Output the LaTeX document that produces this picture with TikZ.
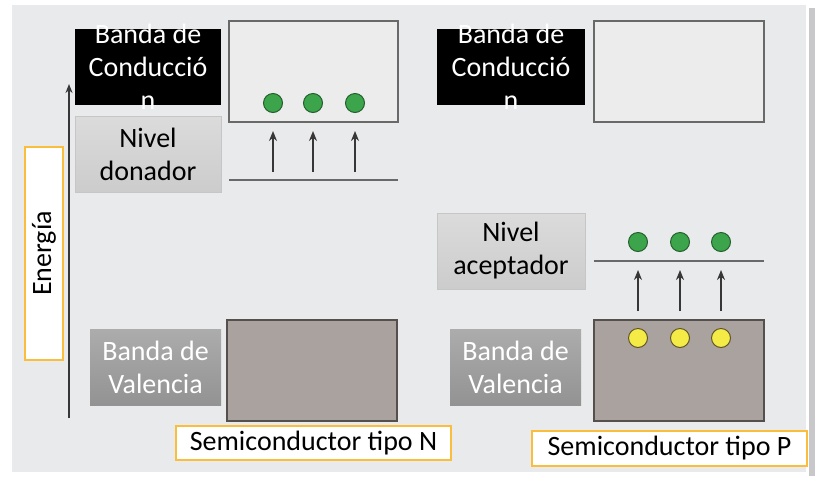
\documentclass[tikz,border=0pt]{standalone}
\usepackage{fontspec}
\setmainfont{Carlito}
\usetikzlibrary{arrows.meta}
\definecolor{bgc}{RGB}{233,234,236}
\definecolor{shadowc}{RGB}{200,200,202}
\definecolor{cbfill}{RGB}{236,236,237}
\definecolor{bandline}{RGB}{105,105,105}
\definecolor{vbfill}{RGB}{170,162,159}
\definecolor{vbline}{RGB}{85,80,78}
\definecolor{orangec}{RGB}{250,190,60}
\definecolor{greenf}{RGB}{60,165,75}
\definecolor{greend}{RGB}{35,95,45}
\definecolor{yellowf}{RGB}{245,235,70}
\definecolor{yellowd}{RGB}{95,85,40}
\definecolor{arrowc}{RGB}{55,55,55}
\tikzset{
  txt/.style={font=\fontsize{28}{33}\selectfont, inner sep=0pt, align=center},
  darklabel/.style={rectangle, fill=black, inner sep=0pt},
  graylabel/.style={rectangle, top color=gray!28, bottom color=gray!40, draw=gray!45, line width=0.6pt, inner sep=0pt, txt},
  vallabel/.style={rectangle, top color=gray!65, bottom color=gray!85, inner sep=0pt, text=white, txt},
  cband/.style={rectangle, fill=cbfill, draw=bandline, line width=1.4pt, inner sep=0pt},
  vband/.style={rectangle, fill=vbfill, draw=vbline, line width=1.4pt, inner sep=0pt},
  ebox/.style={rectangle, fill=white, draw=orangec, line width=1.2pt, inner sep=0pt, txt},
  edot/.style={circle, fill=greenf, draw=greend, line width=1pt, minimum size=19pt, inner sep=0pt},
  hdot/.style={circle, fill=yellowf, draw=yellowd, line width=1pt, minimum size=19pt, inner sep=0pt},
  jump/.style={draw=arrowc, line width=1.7pt, -{Stealth[length=10pt,width=8pt]}},
  level/.style={draw=bandline, line width=1.6pt},
}
\begin{document}
\begin{tikzpicture}[x=1pt,y=-1pt]
\useasboundingbox (0,0) rectangle (818,480);
\fill[white] (0,0) rectangle (818,480);
% background panel and shadow
\fill[shadowc] (809,8) rectangle (815,476);
\fill[bgc] (12,5) rectangle (806,472);

% energy axis
\coordinate (ax0) at (69,418);
\coordinate (ax1) at (69,84);
\draw[draw=arrowc, line width=1.6pt, -{Stealth[length=9pt,width=7pt]}] (ax0) -- (ax1);
\node[ebox, minimum width=38pt, minimum height=213pt] (eb) at (44,253.5) {};
\node[txt, rotate=90] (et) at (eb.center) {Energía};

% ---------- N type ----------
\node[cband, minimum width=169pt, minimum height=101pt] (cbN) at (313.5,71.5) {};
\node[vband, minimum width=170pt, minimum height=101pt] (vbN) at (312,370.5) {};
\node[darklabel, minimum width=146pt, minimum height=76pt] (clN) at (148,67) {};
\node[txt, text=white] (clNt) at (clN.center) {Banda de\\Conducció\\n};
\node[graylabel, minimum width=146pt, minimum height=76pt] (dlN) at (148,154) {Nivel\\donador};
\node[vallabel, minimum width=131pt, minimum height=76pt] (vlN) at (155.5,367) {Banda de\\Valencia};
\coordinate (dl0) at (229,180);
\coordinate (dl1) at (398,180);
\draw[level] (dl0) -- (dl1);
\foreach \i/\x in {1/273,2/313,3/355}{
  \node[edot] (eN\i) at (\x,103) {};
  \coordinate (aN\i s) at (\x,172);
  \coordinate (aN\i e) at (\x,131);
  \draw[jump] (aN\i s) -- (aN\i e);
}
\node[ebox, minimum width=275pt, minimum height=34pt] (sN) at (313.5,443) {Semiconductor tipo N};

% ---------- P type ----------
\node[cband, minimum width=170pt, minimum height=101pt] (cbP) at (679,71.5) {};
\node[vband, minimum width=170pt, minimum height=101pt] (vbP) at (679,370.5) {};
\node[darklabel, minimum width=148pt, minimum height=76pt] (clP) at (511,67) {};
\node[txt, text=white] (clPt) at (clP.center) {Banda de\\Conducció\\n};
\node[graylabel, minimum width=148pt, minimum height=76pt] (alP) at (511,251) {Nivel\\aceptador};
\node[vallabel, minimum width=131pt, minimum height=76pt] (vlP) at (515.5,367) {Banda de\\Valencia};
\coordinate (al0) at (594,261);
\coordinate (al1) at (764,261);
\draw[level] (al0) -- (al1);
\foreach \i/\x in {1/638,2/680,3/721}{
  \node[edot] (eP\i) at (\x,242) {};
  \node[hdot] (hP\i) at (\x,338) {};
  \coordinate (aP\i s) at (\x,311);
  \coordinate (aP\i e) at (\x,270);
  \draw[jump] (aP\i s) -- (aP\i e);
}
\node[ebox, minimum width=275pt, minimum height=35pt] (sP) at (669.5,448.5) {Semiconductor tipo P};
\end{tikzpicture}
\end{document}
